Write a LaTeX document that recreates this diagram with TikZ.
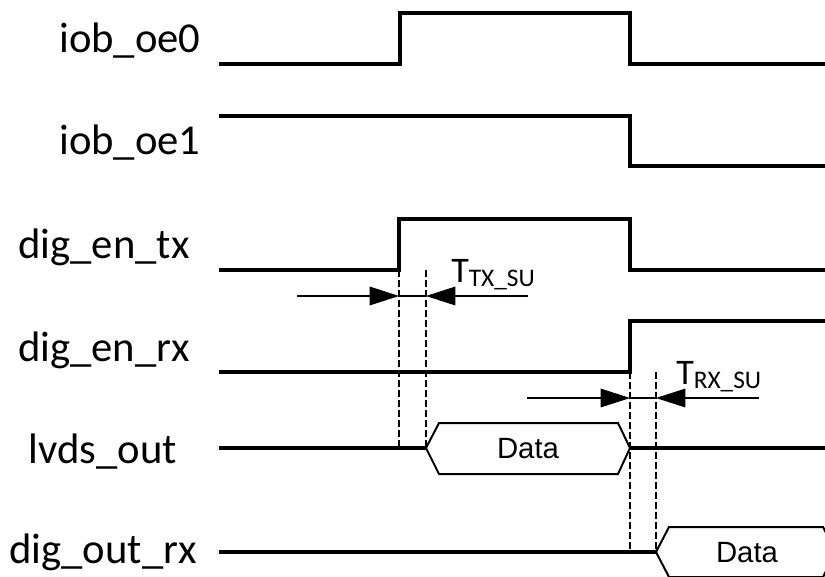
\documentclass[tikz,border=0pt]{standalone}
\usepackage{fontspec}
\setmainfont{Carlito}
\newfontfamily\arialfont{Liberation Sans}
\usetikzlibrary{arrows.meta}

\begin{document}
\begin{tikzpicture}[x=0.75pt, y=-0.75pt,
  every node/.style={inner sep=0pt, font=\fontsize{32}{32}\selectfont},
  sig/.style={line width=2.4pt},
  bus/.style={line width=1.5pt},
  guide/.style={line width=0.8pt, dash pattern=on 5pt off 2.5pt},
  dim/.style={line width=0.8pt, -{Triangle[length=22pt,width=14pt]}},
  datafont/.style={font=\arialfont\fontsize{22}{22}\selectfont}]
\useasboundingbox (0,0) rectangle (825,576);
\clip (0,0) rectangle (825,576);
\node[anchor=base] (nOeZero) at (130,52) {iob\_oe0};
\node[anchor=base] (nOeOne) at (130,154) {iob\_oe1};
\node[anchor=base] (nEnTx) at (104,258) {dig\_en\_tx};
\node[anchor=base] (nEnRx) at (104,361) {dig\_en\_rx};
\node[anchor=base] (nLvds) at (103,463) {lvds\_out};
\node[anchor=base] (nOutRx) at (103,563) {dig\_out\_rx};
\draw[sig] (219,64) -- (400,64) -- (400,13) -- (630,13) -- (630,64) -- (825,64);
\draw[sig] (219,116) -- (630,116) -- (630,166) -- (825,166);
\draw[sig] (219,270) -- (399,270) -- (399,219) -- (630,219) -- (630,270) -- (825,270);
\draw[sig] (219,372) -- (630,372) -- (630,321) -- (825,321);
\draw[sig] (219,448) -- (426,448);
\draw[sig] (630,448) -- (825,448);
\draw[sig] (219,552) -- (656,552);
\draw[bus] (426,448) -- (439,423) -- (618,423) -- (630,448) -- (618,474) -- (439,474) -- cycle;
\draw[bus] (656,552) -- (669,527) -- (823,527) -- (836,552) -- (823,577) -- (669,577) -- cycle;
\node[datafont, anchor=base] (dLvds) at (528,458) {Data};
\node[datafont, anchor=base] (dOutRx) at (747,562) {Data};
\draw[guide] (399,270) -- (399,448);
\draw[guide] (426,270) -- (426,448);
\draw[guide] (630,372) -- (630,552);
\draw[guide] (656,372) -- (656,552);
\coordinate (txA) at (297,296);
\coordinate (txB) at (399,296);
\coordinate (txC) at (426,296);
\coordinate (txD) at (528,296);
\draw[dim] (txA) -- (txB);
\draw[line width=0.8pt] (txB) -- (txC);
\draw[dim] (txD) -- (txC);
\coordinate (rxA) at (527,398);
\coordinate (rxB) at (630,398);
\coordinate (rxC) at (656,398);
\coordinate (rxD) at (759,398);
\draw[dim] (rxA) -- (rxB);
\draw[line width=0.8pt] (rxB) -- (rxC);
\draw[dim] (rxD) -- (rxC);
\node[anchor=base west] (tTx) at (451,282) {\fontsize{27}{27}\selectfont T\raisebox{-3pt}{\fontsize{19}{19}\selectfont TX\_SU}};
\node[anchor=base west] (tRx) at (676,384) {\fontsize{27}{27}\selectfont T\raisebox{-3pt}{\fontsize{19}{19}\selectfont RX\_SU}};
\end{tikzpicture}
\end{document}
